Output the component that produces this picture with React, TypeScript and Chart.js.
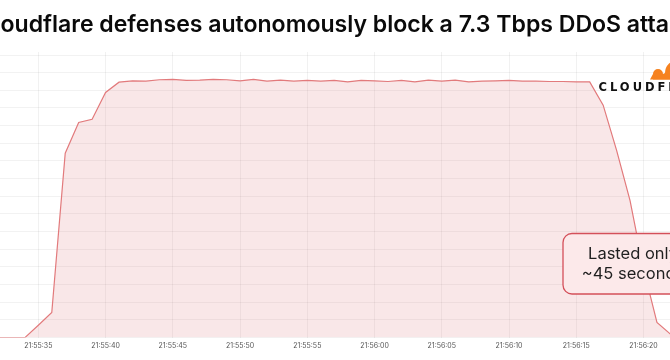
import React, { useEffect, useRef } from "react";
import { Chart, registerables } from "chart.js";

Chart.register(...registerables);

const titleText = "Cloudflare defenses autonomously block a 7.3 Tbps DDoS attack";

const timeLabels = [
  "21:55:32", "21:55:33", "21:55:34", "21:55:35", "21:55:36", "21:55:37", "21:55:38", "21:55:39",
  "21:55:40", "21:55:41", "21:55:42", "21:55:43", "21:55:44", "21:55:45", "21:55:46", "21:55:47",
  "21:55:48", "21:55:49", "21:55:50", "21:55:51", "21:55:52", "21:55:53", "21:55:54", "21:55:55",
  "21:55:56", "21:55:57", "21:55:58", "21:55:59", "21:56:00", "21:56:01", "21:56:02", "21:56:03",
  "21:56:04", "21:56:05", "21:56:06", "21:56:07", "21:56:08", "21:56:09", "21:56:10", "21:56:11",
  "21:56:12", "21:56:13", "21:56:14", "21:56:15", "21:56:16", "21:56:17", "21:56:18", "21:56:19",
  "21:56:20", "21:56:21", "21:56:22", "21:56:23",
];

const trafficTbps = [
  0, 0, 0, 0.35, 0.71, 5.22, 6.09, 6.18,
  6.94, 7.23, 7.27, 7.26, 7.3, 7.31, 7.28, 7.29,
  7.31, 7.3, 7.27, 7.31, 7.26, 7.29, 7.26, 7.28,
  7.26, 7.28, 7.24, 7.28, 7.27, 7.25, 7.28, 7.24,
  7.29, 7.26, 7.29, 7.24, 7.26, 7.27, 7.28, 7.26,
  7.26, 7.25, 7.25, 7.24, 7.24, 6.58, 5.3, 3.88,
  1.95, 0.43, 0.1, 0,
];

const annotationLines = ["Lasted only", "~45 seconds"];
const logoText = "CLOUDFLARE";

const BASE_SEC = 21 * 3600 + 55 * 60;
const toSec = (s: string) => {
  const [h, m, sec] = s.split(":").map(Number);
  return h * 3600 + m * 60 + sec - BASE_SEC;
};
const points = timeLabels.map((t, i) => ({ x: toSec(t), y: trafficTbps[i] }));
const labelBySec: Record<number, string> = {};
timeLabels.forEach((t) => (labelBySec[toSec(t)] = t));

const FONT = "Inter, 'Noto Sans', sans-serif";

function roundRect(ctx: CanvasRenderingContext2D, x: number, y: number, w: number, h: number, r: number) {
  ctx.beginPath();
  ctx.moveTo(x + r, y);
  ctx.lineTo(x + w - r, y);
  ctx.arcTo(x + w, y, x + w, y + r, r);
  ctx.lineTo(x + w, y + h - r);
  ctx.arcTo(x + w, y + h, x + w - r, y + h, r);
  ctx.lineTo(x + r, y + h);
  ctx.arcTo(x, y + h, x, y + h - r, r);
  ctx.lineTo(x, y + r);
  ctx.arcTo(x, y, x + r, y, r);
  ctx.closePath();
}

const overlayPlugin = {
  id: "overlay",
  afterDraw(chart: any) {
    const ctx: CanvasRenderingContext2D = chart.ctx;
    ctx.save();

    // title: wider than the canvas, clipped on both sides like the reference
    ctx.font = `600 100px ${FONT}`;
    const visW = ctx.measureText(titleText.slice(2, -2)).width;
    const size = (100 * 669) / visW;
    ctx.font = `600 ${size}px ${FONT}`;
    const lead = ctx.measureText(titleText.slice(0, 2)).width;
    ctx.fillStyle = "#0a0a0a";
    ctx.textAlign = "left";
    ctx.textBaseline = "alphabetic";
    ctx.fillText(titleText, 0.5 - lead, 31.5);

    // annotation box
    roundRect(ctx, 563, 233.5, 140, 60.5, 9);
    ctx.fillStyle = "#fce9ea";
    ctx.fill();
    ctx.lineWidth = 1.3;
    ctx.strokeStyle = "#d4505a";
    ctx.stroke();
    ctx.fillStyle = "#1f1f1f";
    ctx.font = `400 16.5px ${FONT}`;
    ctx.textAlign = "center";
    ctx.textBaseline = "middle";
    ctx.fillText(annotationLines[0], 633, 254.5);
    ctx.fillText(annotationLines[1], 633, 274);

    // logo cloud
    ctx.fillStyle = "#f6821f";
    ctx.beginPath();
    ctx.arc(658, 74, 5, Math.PI, 2 * Math.PI);
    ctx.arc(678, 73, 13, Math.PI, 2 * Math.PI);
    ctx.lineTo(700, 79.5);
    ctx.lineTo(650, 79.5);
    ctx.closePath();
    ctx.fill();
    ctx.fillRect(653, 74, 30, 5.5);

    // logo text
    ctx.fillStyle = "#111";
    ctx.font = `bold 11.5px 'DejaVu Sans', ${FONT}`;
    ctx.textAlign = "left";
    ctx.textBaseline = "alphabetic";
    (ctx as any).letterSpacing = "3px";
    ctx.fillText(logoText, 598.5, 90.7);
    ctx.restore();
  },
};

export default function App() {
  const ref = useRef<HTMLCanvasElement>(null);
  useEffect(() => {
    document.body.style.margin = "0";
    const chart = new Chart(ref.current!, {
      type: "line",
      data: {
        datasets: [
          {
            data: points,
            borderColor: "#e27a7c",
            borderWidth: 1.2,
            backgroundColor: "rgba(214, 92, 98, 0.15)",
            fill: "origin",
            pointRadius: 0,
            tension: 0,
          },
        ],
      },
      options: {
        responsive: false,
        animation: false,
        layout: { padding: { left: 0, right: 0, top: 52, bottom: 6 } },
        plugins: {
          legend: { display: false },
          tooltip: { enabled: false },
          title: { display: false },
        },
        scales: {
          x: {
            type: "linear",
            min: 32.15,
            max: 81.97,
            border: { display: false },
            grid: { color: "rgba(0,0,0,0.055)", drawTicks: false, lineWidth: 1 },
            ticks: {
              stepSize: 5,
              includeBounds: false,
              maxRotation: 0,
              autoSkip: false,
              padding: 4,
              color: "#555",
              font: { family: FONT, size: 7 },
              callback: (v: any) => labelBySec[Number(v)] ?? "",
            },
          },
          y: {
            display: true,
            min: 0,
            max: 8.085,
            border: { display: false },
            grid: { color: "rgba(0,0,0,0.05)", drawTicks: false },
            ticks: { display: false, stepSize: 0.5, includeBounds: false },
          },
        },
      },
      plugins: [overlayPlugin],
    });
    return () => chart.destroy();
  }, []);
  return (
    <div style={{ position: "fixed", left: 0, top: 0, width: 670, height: 360, background: "#fff" }}>
      <canvas ref={ref} width={670} height={360} style={{ width: 670, height: 360, display: "block" }} />
    </div>
  );
}
